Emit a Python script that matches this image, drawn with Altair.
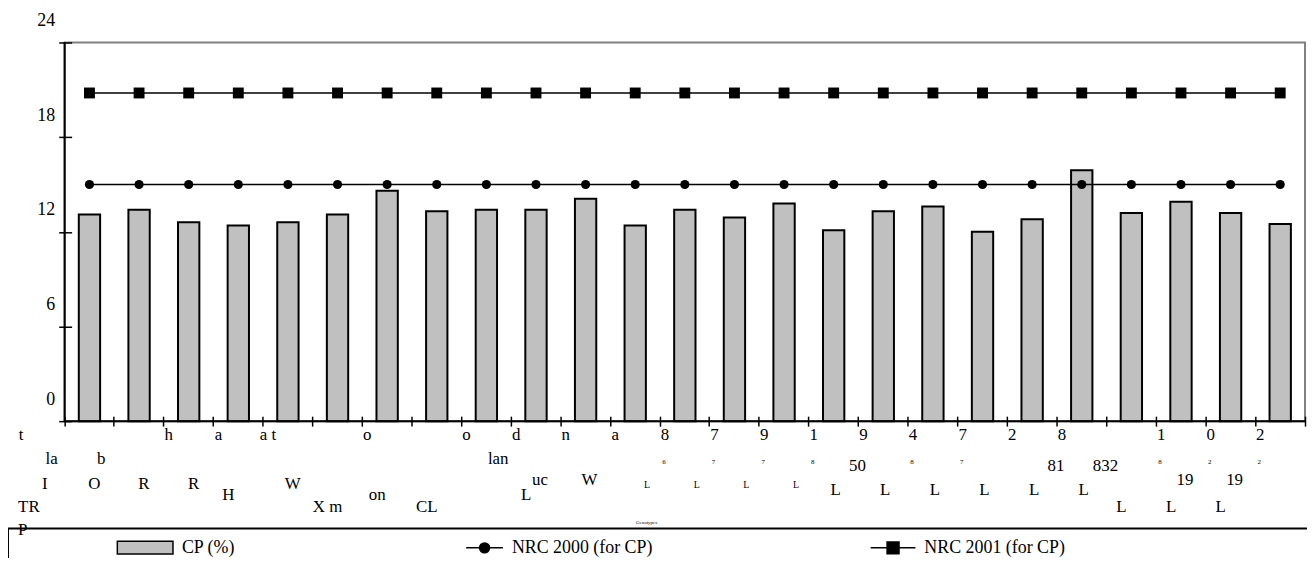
import altair as alt
import pandas as pd

FONT = "Liberation Serif"
NB = "\u00a0"
ZW = "\u200b"  # keeps trailing padding from being trimmed


def padr(s, n):
    return s + NB * n + ZW


# ---------------- data ----------------
genotypes = [f"G{i:02d}" for i in range(1, 26)]
cp = [13.1, 13.4, 12.6, 12.4, 12.6, 13.1, 14.6, 13.3, 13.4, 13.4,
      14.1, 12.4, 13.4, 12.9, 13.8, 12.1, 13.3, 13.6, 12.0, 12.8,
      15.9, 13.2, 13.9, 13.2, 12.5]
nrc2000 = [15.0, 15.0, 15.0, 15.0, 15.0, 15.0, 15.0, 15.0, 15.0, 15.0,
           15.0, 15.0, 15.0, 15.0, 15.0, 15.0, 15.0, 15.0, 15.0, 15.0,
           15.0, 15.0, 15.0, 15.0, 15.0]
nrc2001 = [20.8, 20.8, 20.8, 20.8, 20.8, 20.8, 20.8, 20.8, 20.8, 20.8,
           20.8, 20.8, 20.8, 20.8, 20.8, 20.8, 20.8, 20.8, 20.8, 20.8,
           20.8, 20.8, 20.8, 20.8, 20.8]
series_names = ["CP (%)", "NRC 2000 (for CP)", "NRC 2001 (for CP)"]
y_ticks = [0, 6, 12, 18, 24]

# garbled (rotated) genotype label fragments, one list per text row
E = ""
frag_a = [padr("t", 23), E, "h", "a", "a t", E, "o", E, "o", "d", "n", "a",
          "8", "7", "9", "1", "9", "4", "7", "2", "8", E, "1", "0", "2"]
frag_b = [E] * 12 + ["6", "7", "7", "8", E, "8", "7", E, E, E, "8", "2", "2"]
frag_c = ["la", "b", E, E, E, E, E, E, E, "lan"] + [E] * 15
frag_d = [E] * 16 + ["50", E, E, E, "81", "832", E, E, E]
frag_e = ["I", "O", "R", "R", E, "W"] + [E] * 19
frag_f = [E] * 9 + ["uc", "W"] + [E] * 11 + ["19", "19", E]
frag_g = [E] * 11 + ["L", "L", "L", "L"] + [E] * 10
frag_h = [E] * 15 + ["L", "L", "L", "L", "L", "L"] + [E] * 4
frag_i = [E, E, E, "H", E, E, "on", E, E, "L"] + [E] * 15
frag_j = [padr("TR", 24), E, E, E, E, "X m", E, "CL"] + [E] * 13 + ["L", "L", "L", E]
frag_k = [padr("P", 27)] + [E] * 24

df = pd.DataFrame({
    "genotype": genotypes, "cp": cp, "nrc2000": nrc2000, "nrc2001": nrc2001,
    "fa": frag_a, "fb": frag_b, "fc": frag_c, "fd": frag_d, "fe": frag_e,
    "ff": frag_f, "fg": frag_g, "fh": frag_h, "fi": frag_i, "fj": frag_j,
    "fk": frag_k,
})

# legend entries are spread over the full-width legend box like the original
legend_labels = [padr(series_names[0], 51),
                 padr(series_names[1], 48),
                 padr(series_names[2], 53)]

# ---------------- encodings ----------------
W, H = 1248, 381
PLOT_TOP = 41  # page y of plot top

x_axis = alt.Axis(labels=False, domain=False, ticks=True, tickSize=10,
                  tickWidth=1.5, tickColor="black", offset=-5,
                  bandPosition=1, tickExtra=True, title="Genotypes",
                  titleFont=FONT, titleFontSize=5, titleFontWeight="normal",
                  titleColor="black", titleX=585, titleY=106,
                  titleAlign="center", titleBaseline="middle")
x_enc = alt.X("genotype:N", sort=genotypes,
              scale=alt.Scale(paddingInner=0, paddingOuter=0), axis=x_axis)

y_scale = alt.Scale(domain=[0, 24], nice=False, zero=True)
y_axis = alt.Axis(values=y_ticks, offset=-7, tickSize=13, tickWidth=1.5,
                  tickColor="black", domain=False, grid=False,
                  labelOffset=-22, labelPadding=4, labelFont=FONT,
                  labelFontSize=18, labelColor="black", title=None)


def Y(field):
    return alt.Y(f"{field}:Q", scale=y_scale, axis=y_axis)


bars = alt.Chart(df).mark_bar(width={"band": 0.43}, fill="#c0c0c0",
                              stroke="black", strokeWidth=2).encode(
    x=x_enc, y=Y("cp"))

line00 = alt.Chart(df).mark_line(color="black", strokeWidth=1.5).encode(
    x=x_enc, y=Y("nrc2000"))
pts00 = alt.Chart(df).mark_point(shape="circle", filled=True, color="black",
                                 size=85, opacity=1).encode(x=x_enc, y=Y("nrc2000"))
line01 = alt.Chart(df).mark_line(color="black", strokeWidth=1.5).encode(
    x=x_enc, y=Y("nrc2001"))
pts01 = alt.Chart(df).mark_point(shape="square", filled=True, color="black",
                                 size=120, opacity=1).encode(x=x_enc, y=Y("nrc2001"))

base_rule = alt.Chart(pd.DataFrame({"v": [0]})).mark_rule(
    color="black", strokeWidth=2).encode(y=Y("v"))
left_rule = alt.Chart(pd.DataFrame({"v": [0]})).mark_rule(
    color="black", strokeWidth=2).encode(
    x=alt.value(0), y=alt.value(0), y2=alt.value(H))


def frag_layer(col, ypage, fs, dx):
    return alt.Chart(df).mark_text(font=FONT, fontSize=fs, dx=dx,
                                   baseline="middle", align="center",
                                   color="black").encode(
        x=x_enc, y=alt.value(ypage - PLOT_TOP), text=f"{col}:N")


texts = [
    frag_layer("fa", 436, 17, -20),
    frag_layer("fb", 463, 7, -21),
    frag_layer("fc", 460, 17, -38),
    frag_layer("fd", 467, 17, -26),
    frag_layer("fe", 485, 17, -45),
    frag_layer("ff", 481, 17, 4),
    frag_layer("fg", 486, 10, 12),
    frag_layer("fh", 491, 17, 2),
    frag_layer("fi", 496, 17, -10),
    frag_layer("fj", 508, 17, -10),
    frag_layer("fk", 532, 17, -10),
]

# ---------------- legend ----------------
legend_paths = [
    "M-6,-0.8125H1V0.8125H-6Z",
    "M-3.625,0H1M-1.9375,0A0.625,0.625 0 1,1 -0.6875,0A0.625,0.625 0 1,1 -1.9375,0Z",
    "M-4.625,0H1M-2.5625,-0.75H-1.0625V0.75H-2.5625Z",
]
leg = alt.Legend(orient="none", legendX=-57, legendY=489,
                 direction="horizontal", columns=3, columnPadding=0,
                 title=NB, titleOrient="left", titlePadding=139,
                 titleFontSize=18, strokeColor="black", padding=10,
                 symbolSize=256, symbolStrokeColor="black",
                 symbolStrokeWidth=1.5, symbolOpacity=1, labelFont=FONT,
                 labelFontSize=18, labelColor="black", labelLimit=2000,
                 labelOffset=8)

legend_layer = alt.Chart(pd.DataFrame({"series": legend_labels})).mark_point(
    filled=True, opacity=0, size=256).encode(
    shape=alt.Shape("series:N",
                    scale=alt.Scale(domain=legend_labels, range=legend_paths),
                    legend=leg),
    fill=alt.Fill("series:N",
                  scale=alt.Scale(domain=legend_labels,
                                  range=["#c0c0c0", "black", "black"]),
                  legend=leg),
    stroke=alt.Stroke("series:N",
                      scale=alt.Scale(domain=legend_labels,
                                      range=["black", "black", "black"]),
                      legend=leg),
)

chart = alt.layer(
    bars, line00, line01, pts00, pts01, base_rule, left_rule, *texts, legend_layer
).properties(
    width=W, height=H,
    autosize=alt.AutoSizeParams(type="none"),
    padding={"left": 57, "top": 33, "right": 2, "bottom": 136},
).configure(font=FONT).configure_view(
    stroke="#808080", strokeWidth=2
).configure_legend(strokeWidth=2)

chart.save("out.html", embed_options={"renderer": "svg", "actions": False})
